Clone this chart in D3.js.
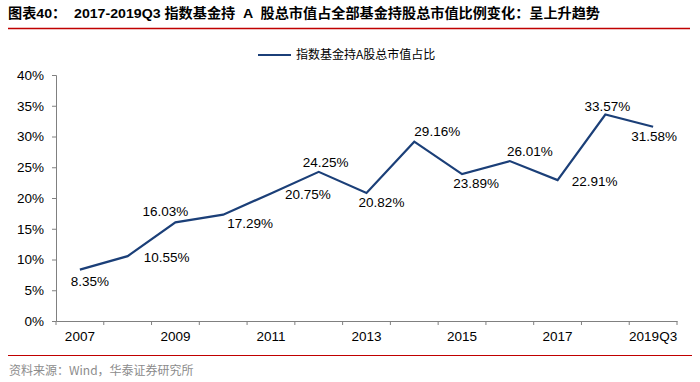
<!DOCTYPE html>
<html><head><meta charset="utf-8">
<script src="https://cdn.jsdelivr.net/npm/d3@7"></script>
<style>
body{margin:0;background:#fff;}
svg{display:block;}
.title{white-space:pre;}
</style></head>
<body>
<svg id="chart" width="700" height="382"></svg>
<script>
const categories = ["2007","2008","2009","2010","2011","2012","2013","2014","2015","2016","2017","2018","2019Q3"];
const values = [8.35,10.55,16.03,17.29,20.75,24.25,20.82,29.16,23.89,26.01,22.91,33.57,31.58];
const yTicks = [0,5,10,15,20,25,30,35,40];
const seriesName = "指数基金持A股总市值占比";
const titleText = "图表40：  2017-2019Q3 指数基金持  A  股总市值占全部基金持股总市值比例变化：呈上升趋势";
const sourceText = "资料来源：Wind，华泰证券研究所";

// label offsets (layout only)
const labelOffsets = [[10,12],[39,1],[-10,-11],[27,9],[37,1],[7,-10],[15,9],[23,-10],[14,9],[20,-10],[37,1],[2,-8],[1,9]];

const svg = d3.select("#chart");
const m = {left:56, right:677, top:75, bottom:321};
const x = d3.scaleBand().domain(categories).range([m.left, m.right]).paddingInner(0).paddingOuter(0);
const y = d3.scaleLinear().domain([0,40]).range([m.bottom, m.top]);
const latin = "Liberation Sans, Arial, sans-serif";
const cjk = "'Noto Sans CJK SC', sans-serif";
const axisColor = "#808080";

// Title
svg.append("text").attr("class","title").attr("x",8).attr("y",18)
  .attr("xml:space","preserve")
  .attr("font-family","'Liberation Sans', 'Noto Sans CJK SC', sans-serif")
  .attr("font-weight","bold").attr("font-size",13.5).attr("fill","#000")
  .attr("textLength",592).attr("lengthAdjust","spacingAndGlyphs")
  .text(titleText);
svg.append("line").attr("x1",8).attr("x2",690).attr("y1",28.5).attr("y2",28.5)
  .attr("stroke","#c00000").attr("stroke-width",1.5);

// Y axis
const yAxis = d3.axisLeft(y).tickValues(yTicks).tickFormat(d=>d+"%").tickSize(4).tickPadding(8);
const gy = svg.append("g").attr("transform",`translate(${m.left},0)`).call(yAxis);
gy.select(".domain").attr("stroke",axisColor);
gy.selectAll(".tick line").attr("stroke",axisColor);
gy.selectAll(".tick text").attr("font-family",latin).attr("font-size",13.5).attr("fill","#000");

// X axis (labels on every other category)
const xAxis = d3.axisBottom(x).tickSize(0).tickPadding(10)
  .tickFormat((d,i)=> i%2===0 ? d : "");
const gx = svg.append("g").attr("transform",`translate(0,${m.bottom})`).call(xAxis);
gx.select(".domain").attr("stroke",axisColor);
gx.selectAll(".tick text").attr("font-family",latin).attr("font-size",13.5).attr("fill","#000");
// tick marks at band edges
const edges = categories.map(c=>x(c)).concat([x.range()[1]]);
gx.selectAll(".edge").data(edges).enter().append("line")
  .attr("x1",d=>d).attr("x2",d=>d).attr("y1",0).attr("y2",4)
  .attr("stroke",axisColor);

// Line
const line = d3.line().x((d,i)=>x(categories[i])+x.bandwidth()/2).y(d=>y(d));
svg.append("path").datum(values).attr("d",line)
  .attr("fill","none").attr("stroke","#1b3f78").attr("stroke-width",2.2)
  .attr("stroke-linejoin","miter");

// Data labels
svg.selectAll(".lbl").data(values).enter().append("text")
  .attr("x",(d,i)=>x(categories[i])+x.bandwidth()/2+labelOffsets[i][0])
  .attr("y",(d,i)=>y(d)+labelOffsets[i][1])
  .attr("dy","0.35em").attr("text-anchor","middle")
  .attr("font-family",latin).attr("font-size",13.5).attr("fill","#000")
  .text(d=>d.toFixed(2)+"%");

// Legend
svg.append("line").attr("x1",258).attr("x2",291).attr("y1",55).attr("y2",55)
  .attr("stroke","#1b3f78").attr("stroke-width",2.2);
svg.append("text").attr("x",296).attr("y",55).attr("dy","0.35em")
  .attr("font-family",cjk).attr("font-size",12).attr("fill","#000")
  .text(seriesName);

// Bottom rule and source
svg.append("line").attr("x1",8).attr("x2",692).attr("y1",355.5).attr("y2",355.5)
  .attr("stroke","#c00000").attr("stroke-width",1.2);
svg.append("text").attr("x",9).attr("y",371).attr("dy","0.35em")
  .attr("font-family",cjk).attr("font-size",12).attr("fill","#8c8c8c")
  .text(sourceText);
</script>
</body></html>
